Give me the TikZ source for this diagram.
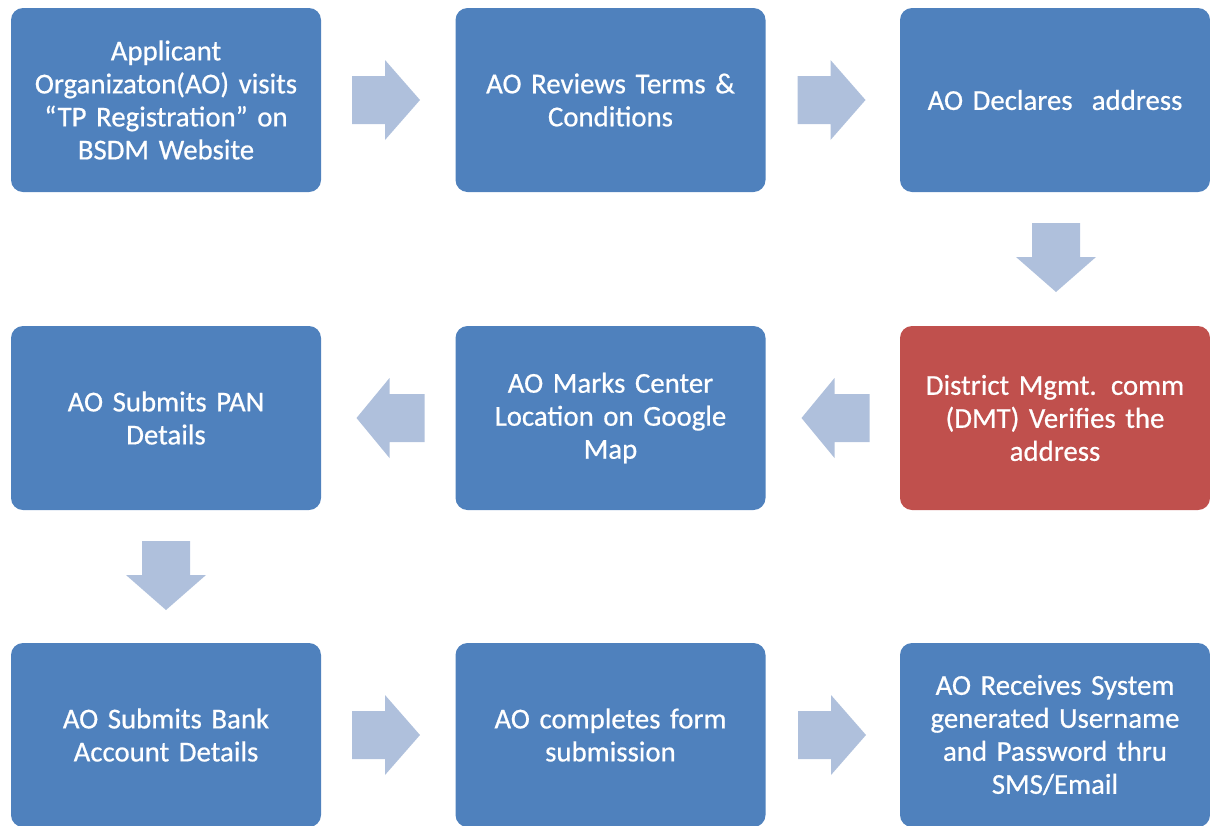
\documentclass[tikz,border=0pt]{standalone}
\usepackage{fontspec}
\setmainfont{Carlito}[FakeBold=0.6,WordSpace=0.85]
\definecolor{boxblue}{HTML}{4F81BD}
\definecolor{boxred}{HTML}{C0504D}
\definecolor{arrowfill}{HTML}{AFC0DC}
\begin{document}
\begin{tikzpicture}[x=0.75pt,y=-0.75pt,
  stepbox/.style={rounded corners=9pt,fill=boxblue,text=white,align=center,
    minimum width=232.5pt,minimum height=138pt,inner sep=0pt,text width=225pt,
    font=\fontsize{21.6}{24.75}\selectfont},
  redbox/.style={stepbox,fill=boxred},
  blockarrow/.style={fill=arrowfill,draw=none}]
\useasboundingbox (0,0) rectangle (1210,825);
\begin{scope}
\clip (0,0) rectangle (1210,825);
% row 1
\node[stepbox] (b1) at (166,100) {Applicant\\Organizaton(AO) visits\\“TP Registration” on\\BSDM Website};
\node[stepbox] (b2) at (610.5,100) {AO Reviews Terms \&\\Conditions};
\node[stepbox] (b3) at (1055,100) {AO Declares\ \ address};
% row 2
\node[stepbox] (b4) at (166,418) {AO Submits PAN\\Details};
\node[stepbox] (b5) at (610.5,418) {AO Marks Center\\Location on Google\\Map};
\node[redbox] (b6) at (1055,418) {District Mgmt. comm\\(DMT) Verifies the\\address};
% row 3
\node[stepbox] (b7) at (166,735) {AO Submits Bank\\Account Details};
\node[stepbox] (b8) at (610.5,735) {AO completes form\\submission};
\node[stepbox] (b9) at (1055,735) {AO Receives System\\generated Username\\and Password thru\\SMS/Email};
\end{scope}
% block arrows
\newcommand{\rightblock}[2]{\fill[blockarrow] (#1-34,#2-24) -- (#1-1,#2-24) -- (#1-1,#2-40) -- (#1+34,#2) -- (#1-1,#2+40) -- (#1-1,#2+24) -- (#1-34,#2+24) -- cycle;}
\newcommand{\leftblock}[2]{\fill[blockarrow] (#1+34,#2-24) -- (#1-1,#2-24) -- (#1-1,#2-40) -- (#1-34,#2) -- (#1-1,#2+40) -- (#1-1,#2+24) -- (#1+34,#2+24) -- cycle;}
\newcommand{\downblock}[2]{\fill[blockarrow] (#1-24,#2-34) -- (#1+24,#2-34) -- (#1+24,#2) -- (#1+40,#2) -- (#1,#2+35) -- (#1-40,#2) -- (#1-24,#2) -- cycle;}
\rightblock{386}{100}
\rightblock{831.5}{100}
\downblock{1056}{257}
\leftblock{835.5}{418}
\leftblock{390.5}{418}
\downblock{166}{575}
\rightblock{386}{735}
\rightblock{832}{735}
\end{tikzpicture}
\end{document}
